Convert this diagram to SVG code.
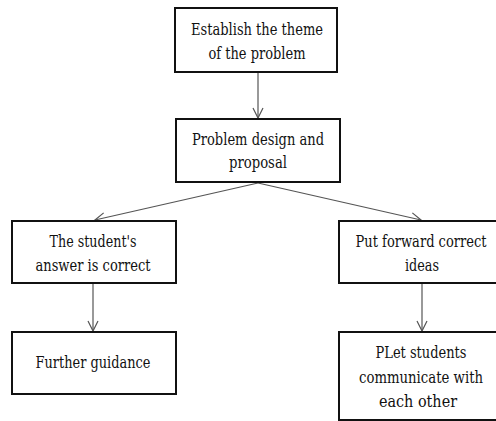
<svg xmlns="http://www.w3.org/2000/svg" width="496" height="421" viewBox="0 0 496 421">
<defs>
<style>
.box{fill:#fff;stroke:#111;stroke-width:2}
.t{font-size:16px;fill:#111;text-anchor:middle}
.c{stroke:#555;stroke-width:1.2;fill:none}
</style>
<marker id="ah" viewBox="0 0 12 12" refX="11" refY="6" markerWidth="12" markerHeight="12" markerUnits="userSpaceOnUse" orient="auto">
<path d="M1,1 L11,6 L1,11" fill="none" stroke="#555" stroke-width="1.2"/>
</marker>
</defs>
<rect width="496" height="421" fill="#fff"/>
<g id="connectors">
<line class="c" x1="258" y1="72" x2="258" y2="118" marker-end="url(#ah)"/>
<line class="c" x1="258" y1="183" x2="95" y2="220" marker-end="url(#ah)"/>
<line class="c" x1="258" y1="183" x2="421" y2="220" marker-end="url(#ah)"/>
<line class="c" x1="93" y1="283" x2="93" y2="331" marker-end="url(#ah)"/>
<line class="c" x1="422" y1="283" x2="422" y2="331" marker-end="url(#ah)"/>
</g>
<g id="n1" font-family="DejaVu Serif">
<rect class="box" x="175" y="8" width="162" height="64"/>
<text class="t" x="257" y="35" textLength="132" lengthAdjust="spacingAndGlyphs">Establish the theme</text>
<text class="t" x="257" y="59" textLength="97" lengthAdjust="spacingAndGlyphs">of the problem</text>
</g>
<g id="n2" font-family="DejaVu Serif">
<rect class="box" x="176" y="119" width="164" height="63"/>
<text class="t" x="258" y="145" textLength="132" lengthAdjust="spacingAndGlyphs">Problem design and</text>
<text class="t" x="258" y="168" textLength="58" lengthAdjust="spacingAndGlyphs">proposal</text>
</g>
<g id="n3" font-family="DejaVu Serif">
<rect class="box" x="12" y="221" width="164" height="62"/>
<text class="t" x="93" y="247" textLength="87" lengthAdjust="spacingAndGlyphs">The student's</text>
<text class="t" x="93" y="271" textLength="115" lengthAdjust="spacingAndGlyphs">answer is correct</text>
</g>
<g id="n4" font-family="DejaVu Serif">
<rect class="box" x="12" y="332" width="164" height="62"/>
<text class="t" x="93" y="368" textLength="115" lengthAdjust="spacingAndGlyphs">Further guidance</text>
</g>
<g id="n5" font-family="DejaVu Serif">
<rect class="box" x="339" y="221" width="170" height="62"/>
<text class="t" x="421" y="247" textLength="131" lengthAdjust="spacingAndGlyphs">Put forward correct</text>
<text class="t" x="422" y="271" textLength="34" lengthAdjust="spacingAndGlyphs">ideas</text>
</g>
<g id="n6" font-family="DejaVu Serif">
<rect class="box" x="339" y="332" width="170" height="88"/>
<text class="t" x="421" y="358" textLength="91" lengthAdjust="spacingAndGlyphs">PLet students</text>
<text class="t" x="421" y="383" textLength="124" lengthAdjust="spacingAndGlyphs">communicate with</text>
<text class="t" x="418" y="407" textLength="78" lengthAdjust="spacingAndGlyphs">each other</text>
</g>
</svg>
